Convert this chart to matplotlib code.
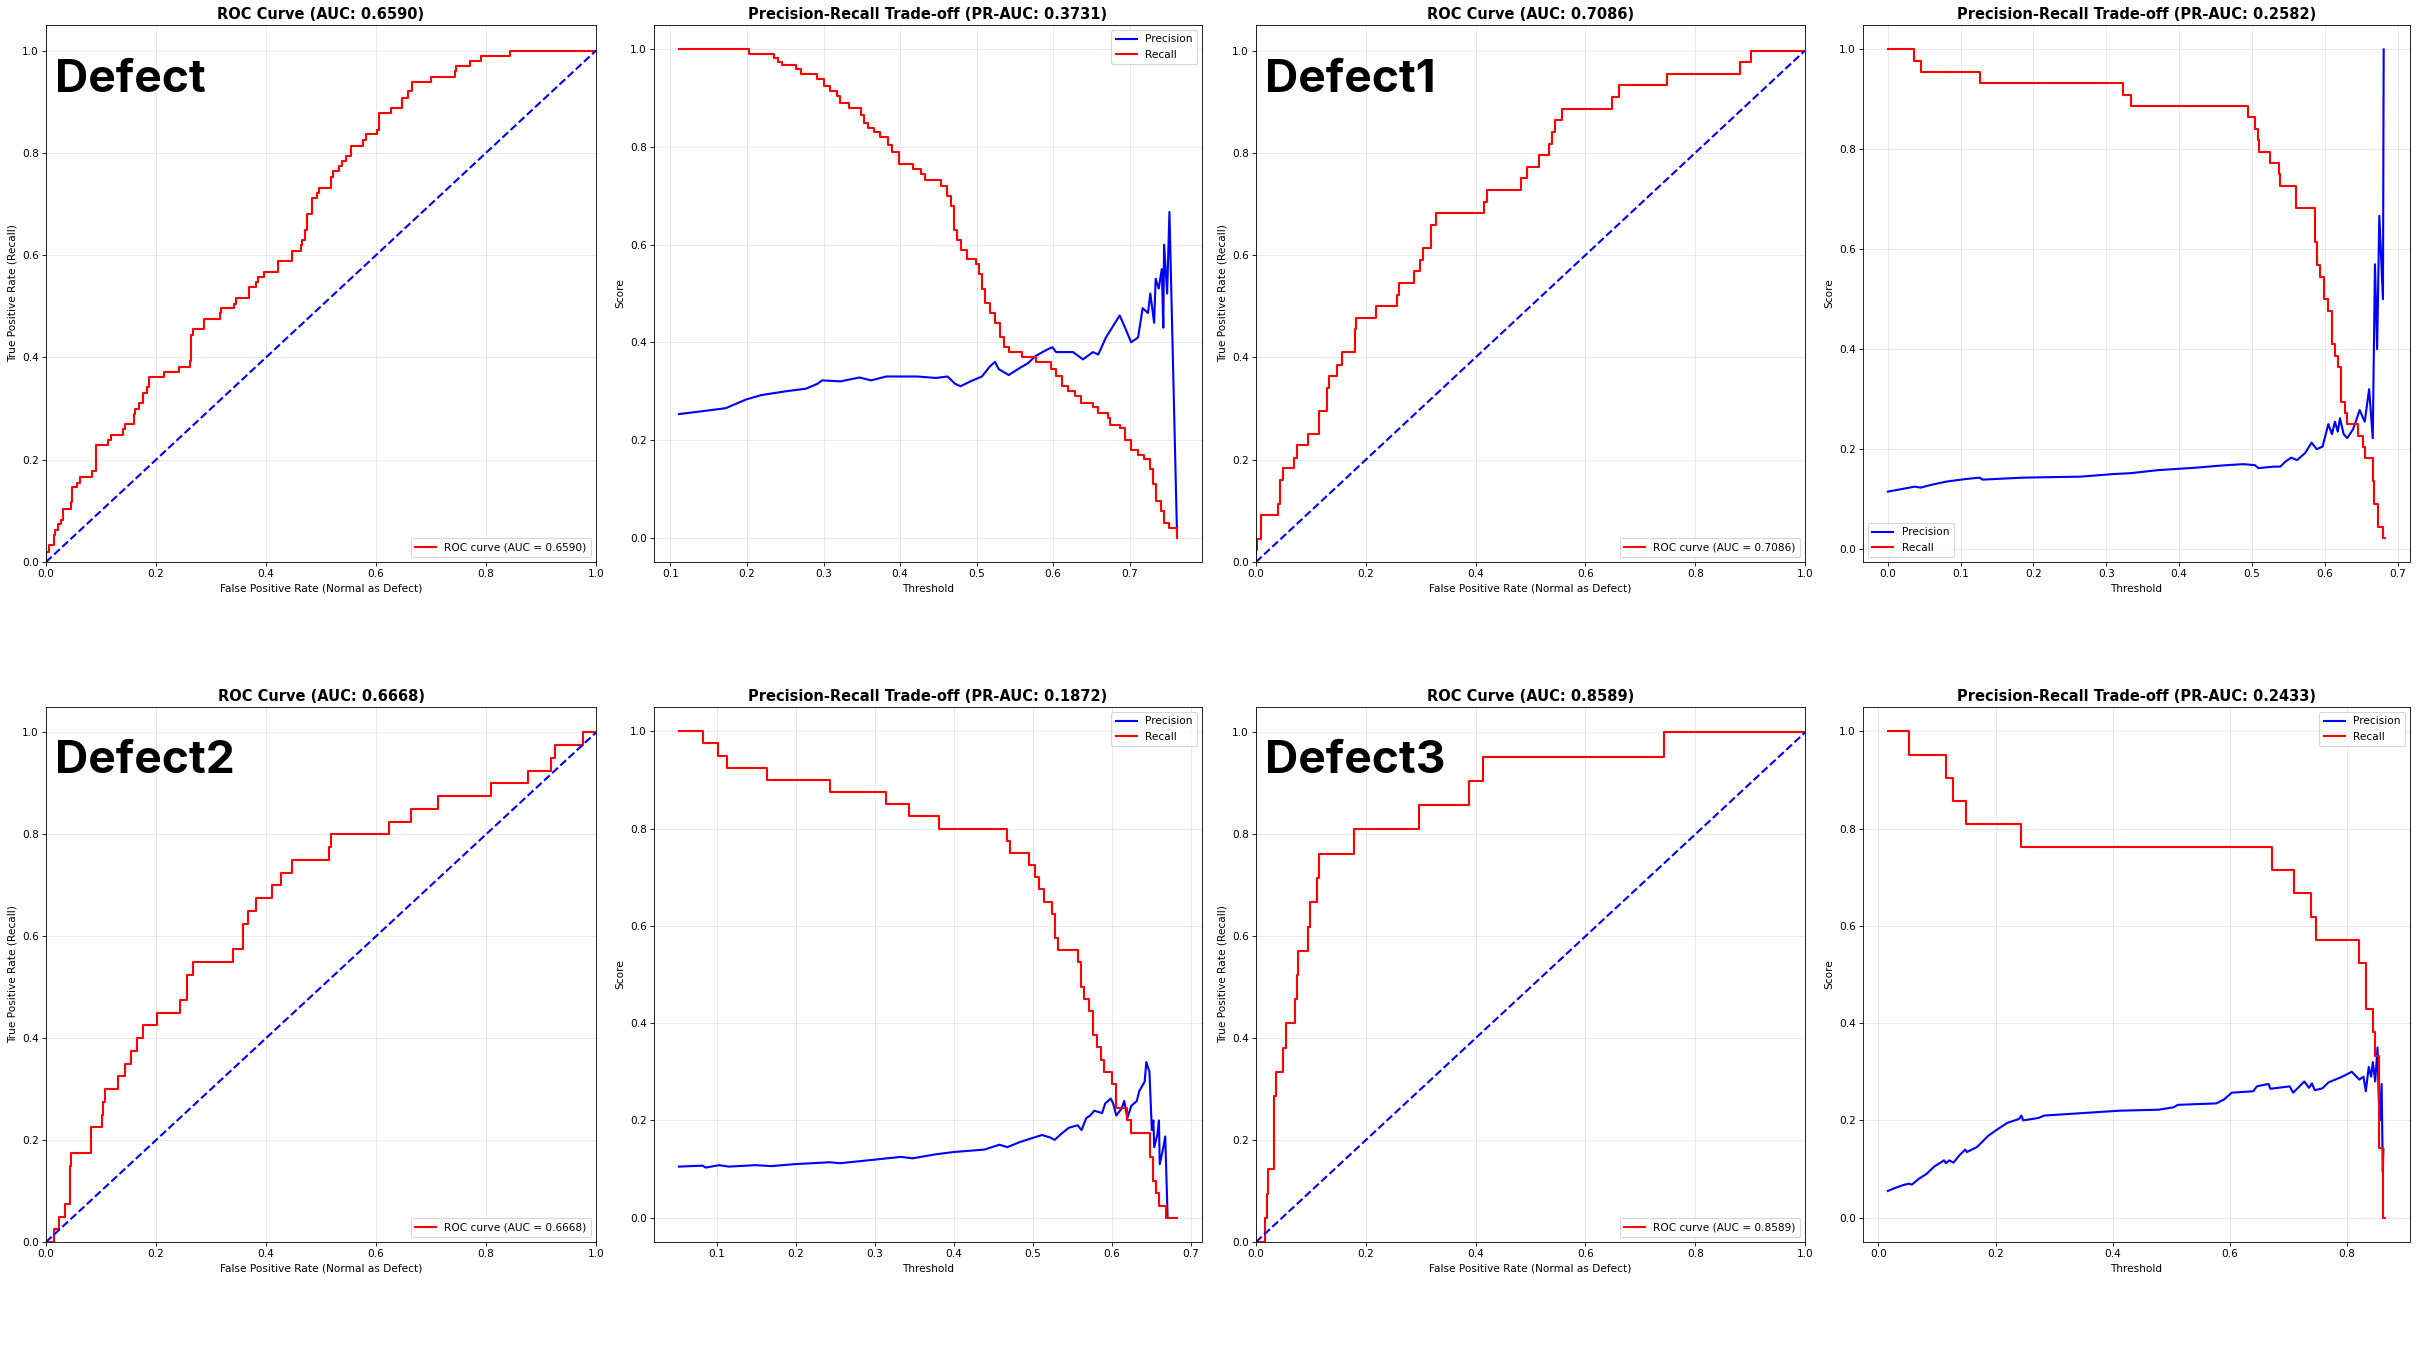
import matplotlib
matplotlib.use("Agg")
import matplotlib.pyplot as plt

# ---------------- data ----------------
defect_names = ["Defect", "Defect1", "Defect2", "Defect3"]
roc_auc = [0.6590, 0.7086, 0.6668, 0.8589]
pr_auc = [0.3731, 0.2582, 0.1872, 0.2433]

roc1_fpr = [0.0, 0.0, 0.005, 0.014, 0.017, 0.021, 0.028, 0.030, 0.046, 0.048, 0.057, 0.061, 0.083, 0.090,
            0.113, 0.118, 0.140, 0.143, 0.160, 0.162, 0.169, 0.177, 0.183, 0.188, 0.214, 0.241, 0.261, 0.264,
            0.268, 0.288, 0.316, 0.319, 0.341, 0.345, 0.369, 0.382, 0.385, 0.397, 0.421, 0.448, 0.464, 0.466,
            0.470, 0.474, 0.484, 0.493, 0.497, 0.519, 0.522, 0.533, 0.539, 0.546, 0.554, 0.577, 0.582, 0.601,
            0.606, 0.627, 0.647, 0.658, 0.665, 0.700, 0.743, 0.746, 0.770, 0.791, 0.843, 1.0]
roc1_tpr = [0.0, 0.020, 0.033, 0.053, 0.063, 0.074, 0.083, 0.104, 0.117, 0.146, 0.155, 0.166, 0.177, 0.228,
            0.239, 0.248, 0.260, 0.270, 0.290, 0.300, 0.310, 0.330, 0.342, 0.362, 0.372, 0.382, 0.393, 0.443,
            0.455, 0.476, 0.486, 0.496, 0.505, 0.517, 0.537, 0.548, 0.558, 0.567, 0.588, 0.608, 0.620, 0.629,
            0.650, 0.681, 0.712, 0.722, 0.732, 0.753, 0.764, 0.775, 0.785, 0.794, 0.814, 0.826, 0.836, 0.845,
            0.877, 0.888, 0.907, 0.920, 0.939, 0.948, 0.960, 0.970, 0.980, 0.990, 1.0, 1.0]

roc2_fpr = [0.0, 0.0, 0.002, 0.009, 0.040, 0.043, 0.049, 0.070, 0.075, 0.094, 0.114, 0.129, 0.133, 0.147,
            0.157, 0.180, 0.183, 0.218, 0.257, 0.260, 0.288, 0.299, 0.304, 0.318, 0.327, 0.415, 0.420, 0.483,
            0.494, 0.515, 0.534, 0.539, 0.544, 0.557, 0.649, 0.662, 0.749, 0.881, 0.902, 1.0]
roc2_tpr = [0.0, 0.023, 0.045, 0.092, 0.113, 0.160, 0.183, 0.203, 0.228, 0.250, 0.296, 0.341, 0.363, 0.386,
            0.410, 0.455, 0.477, 0.500, 0.522, 0.546, 0.569, 0.590, 0.614, 0.659, 0.682, 0.704, 0.727, 0.751,
            0.773, 0.796, 0.818, 0.841, 0.864, 0.886, 0.909, 0.932, 0.955, 0.977, 1.0, 1.0]

roc3_fpr = [0.0, 0.014, 0.023, 0.034, 0.043, 0.045, 0.081, 0.082, 0.101, 0.104, 0.108, 0.131, 0.143, 0.154,
            0.166, 0.177, 0.202, 0.244, 0.257, 0.267, 0.340, 0.358, 0.368, 0.382, 0.411, 0.428, 0.448, 0.515,
            0.519, 0.623, 0.663, 0.713, 0.809, 0.877, 0.919, 0.926, 0.976, 1.0]
roc3_tpr = [0.0, 0.025, 0.050, 0.075, 0.150, 0.175, 0.200, 0.225, 0.250, 0.275, 0.300, 0.325, 0.350, 0.375,
            0.400, 0.425, 0.450, 0.475, 0.525, 0.550, 0.575, 0.625, 0.650, 0.675, 0.700, 0.725, 0.750, 0.775,
            0.800, 0.825, 0.850, 0.875, 0.900, 0.925, 0.950, 0.975, 1.0, 1.0]

roc4_fpr = [0.0, 0.016, 0.020, 0.022, 0.033, 0.036, 0.049, 0.054, 0.071, 0.075, 0.077, 0.094, 0.098, 0.112,
            0.115, 0.179, 0.297, 0.388, 0.413, 0.743, 1.0]
roc4_tpr = [0.0, 0.048, 0.095, 0.143, 0.286, 0.333, 0.381, 0.429, 0.476, 0.524, 0.571, 0.619, 0.667, 0.714,
            0.762, 0.810, 0.857, 0.905, 0.952, 1.0, 1.0]

# PR panel 1 (Defect)
pr1_rec_thr = [0.111, 0.203, 0.235, 0.240, 0.246, 0.264, 0.270, 0.292, 0.300, 0.309, 0.317, 0.321, 0.333,
               0.349, 0.353, 0.358, 0.366, 0.374, 0.384, 0.389, 0.398, 0.417, 0.428, 0.433, 0.454, 0.461,
               0.467, 0.470, 0.474, 0.479, 0.488, 0.499, 0.503, 0.507, 0.511, 0.517, 0.524, 0.531, 0.536,
               0.543, 0.559, 0.577, 0.597, 0.604, 0.612, 0.619, 0.629, 0.637, 0.652, 0.659, 0.672, 0.674,
               0.687, 0.694, 0.702, 0.711, 0.719, 0.726, 0.730, 0.734, 0.741, 0.745, 0.751, 0.762]
pr1_recall = [1.0, 0.990, 0.982, 0.975, 0.968, 0.960, 0.950, 0.940, 0.925, 0.915, 0.905, 0.890, 0.880,
              0.865, 0.850, 0.840, 0.830, 0.820, 0.805, 0.790, 0.765, 0.755, 0.745, 0.733, 0.720, 0.700,
              0.680, 0.630, 0.610, 0.590, 0.570, 0.560, 0.540, 0.510, 0.480, 0.460, 0.440, 0.410, 0.390,
              0.380, 0.370, 0.360, 0.345, 0.330, 0.310, 0.300, 0.290, 0.275, 0.268, 0.255, 0.245, 0.230,
              0.225, 0.200, 0.180, 0.170, 0.160, 0.140, 0.110, 0.075, 0.055, 0.030, 0.020, 0.000]
pr1_prec_thr = [0.111, 0.147, 0.172, 0.199, 0.219, 0.252, 0.277, 0.292, 0.298, 0.322, 0.347, 0.362, 0.382,
                0.422, 0.447, 0.462, 0.472, 0.479, 0.492, 0.507, 0.517, 0.524, 0.529, 0.542, 0.557, 0.567,
                0.577, 0.592, 0.599, 0.604, 0.616, 0.626, 0.639, 0.652, 0.659, 0.669, 0.677, 0.687, 0.694,
                0.702, 0.711, 0.717, 0.724, 0.727, 0.732, 0.734, 0.738, 0.742, 0.744, 0.745, 0.749, 0.752,
                0.762]
pr1_precision = [0.253, 0.260, 0.265, 0.283, 0.292, 0.300, 0.305, 0.315, 0.322, 0.320, 0.328, 0.322, 0.330,
                 0.330, 0.327, 0.330, 0.315, 0.310, 0.320, 0.330, 0.350, 0.360, 0.345, 0.333, 0.348, 0.357,
                 0.372, 0.385, 0.390, 0.380, 0.380, 0.380, 0.365, 0.380, 0.375, 0.410, 0.430, 0.455, 0.430,
                 0.400, 0.410, 0.470, 0.460, 0.500, 0.440, 0.530, 0.510, 0.550, 0.430, 0.600, 0.500, 0.667,
                 0.0]

# PR panel 2 (Defect1)
pr2_rec_thr = [0.0, 0.036, 0.045, 0.126, 0.323, 0.334, 0.495, 0.504, 0.508, 0.510, 0.525, 0.537, 0.539,
               0.561, 0.586, 0.589, 0.594, 0.599, 0.605, 0.610, 0.614, 0.618, 0.623, 0.628, 0.631, 0.646,
               0.652, 0.656, 0.666, 0.668, 0.673, 0.680, 0.683]
pr2_recall = [1.0, 0.977, 0.955, 0.932, 0.909, 0.886, 0.864, 0.841, 0.818, 0.795, 0.773, 0.750, 0.727,
              0.682, 0.614, 0.568, 0.545, 0.500, 0.477, 0.410, 0.386, 0.364, 0.295, 0.273, 0.250, 0.227,
              0.205, 0.182, 0.136, 0.091, 0.045, 0.023, 0.023]
pr2_prec_thr = [0.0, 0.037, 0.045, 0.058, 0.080, 0.106, 0.126, 0.130, 0.186, 0.265, 0.308, 0.334, 0.371,
                0.424, 0.456, 0.488, 0.504, 0.509, 0.530, 0.539, 0.546, 0.554, 0.562, 0.573, 0.582, 0.589,
                0.597, 0.605, 0.610, 0.614, 0.618, 0.621, 0.626, 0.631, 0.639, 0.648, 0.655, 0.661, 0.666,
                0.669, 0.672, 0.675, 0.680, 0.681]
pr2_precision = [0.115, 0.125, 0.123, 0.128, 0.135, 0.140, 0.143, 0.139, 0.143, 0.145, 0.150, 0.152, 0.158,
                 0.163, 0.167, 0.170, 0.168, 0.162, 0.165, 0.165, 0.175, 0.183, 0.178, 0.192, 0.213, 0.200,
                 0.205, 0.250, 0.230, 0.255, 0.235, 0.262, 0.230, 0.222, 0.240, 0.278, 0.255, 0.320, 0.222,
                 0.570, 0.400, 0.667, 0.500, 1.0]

# PR panel 3 (Defect2)
pr3_rec_thr = [0.052, 0.083, 0.102, 0.113, 0.163, 0.243, 0.314, 0.343, 0.382, 0.468, 0.471, 0.496, 0.503,
               0.508, 0.515, 0.524, 0.528, 0.532, 0.558, 0.561, 0.565, 0.572, 0.577, 0.582, 0.586, 0.590,
               0.601, 0.606, 0.620, 0.624, 0.649, 0.652, 0.656, 0.660, 0.669, 0.683]
pr3_recall = [1.0, 0.975, 0.950, 0.925, 0.900, 0.875, 0.850, 0.825, 0.800, 0.775, 0.750, 0.725, 0.700,
              0.675, 0.650, 0.625, 0.575, 0.550, 0.525, 0.475, 0.450, 0.425, 0.375, 0.350, 0.325, 0.300,
              0.275, 0.225, 0.200, 0.175, 0.125, 0.075, 0.050, 0.025, 0.000, 0.000]
pr3_prec_thr = [0.052, 0.082, 0.086, 0.103, 0.115, 0.149, 0.169, 0.198, 0.243, 0.256, 0.304, 0.333, 0.348,
                0.376, 0.400, 0.439, 0.458, 0.468, 0.483, 0.502, 0.512, 0.522, 0.528, 0.536, 0.546, 0.557,
                0.562, 0.568, 0.573, 0.578, 0.588, 0.592, 0.599, 0.602, 0.606, 0.613, 0.616, 0.620, 0.625,
                0.632, 0.635, 0.642, 0.644, 0.648, 0.651, 0.653, 0.654, 0.658, 0.660, 0.661, 0.665, 0.668,
                0.671]
pr3_precision = [0.105, 0.107, 0.103, 0.108, 0.105, 0.108, 0.106, 0.110, 0.114, 0.112, 0.120, 0.125, 0.122,
                 0.130, 0.135, 0.140, 0.150, 0.145, 0.155, 0.165, 0.170, 0.165, 0.160, 0.172, 0.185, 0.190,
                 0.180, 0.205, 0.210, 0.220, 0.215, 0.235, 0.245, 0.235, 0.210, 0.225, 0.240, 0.205, 0.230,
                 0.240, 0.260, 0.280, 0.320, 0.300, 0.180, 0.200, 0.145, 0.170, 0.200, 0.110, 0.140, 0.167,
                 0.0]

# PR panel 4 (Defect3)
pr4_rec_thr = [0.016, 0.052, 0.115, 0.127, 0.150, 0.244, 0.671, 0.709, 0.739, 0.747, 0.821, 0.832, 0.844,
               0.848, 0.854, 0.862, 0.865]
pr4_recall = [1.0, 0.952, 0.905, 0.857, 0.810, 0.762, 0.714, 0.667, 0.619, 0.571, 0.524, 0.429, 0.381,
              0.333, 0.143, 0.000, 0.000]
pr4_prec_thr = [0.016, 0.026, 0.042, 0.052, 0.057, 0.069, 0.082, 0.095, 0.112, 0.115, 0.121, 0.128, 0.138,
                0.148, 0.151, 0.168, 0.187, 0.201, 0.220, 0.240, 0.244, 0.247, 0.273, 0.283, 0.412, 0.478,
                0.504, 0.511, 0.577, 0.590, 0.603, 0.640, 0.646, 0.666, 0.669, 0.702, 0.708, 0.727, 0.735,
                0.740, 0.745, 0.758, 0.768, 0.792, 0.808, 0.821, 0.828, 0.832, 0.837, 0.841, 0.844, 0.848,
                0.852, 0.854, 0.856, 0.859, 0.861, 0.862]
pr4_precision = [0.055, 0.060, 0.067, 0.070, 0.068, 0.080, 0.090, 0.105, 0.118, 0.112, 0.118, 0.113, 0.128,
                 0.140, 0.135, 0.145, 0.168, 0.180, 0.195, 0.203, 0.210, 0.200, 0.205, 0.210, 0.220, 0.222,
                 0.227, 0.232, 0.235, 0.243, 0.257, 0.260, 0.270, 0.275, 0.265, 0.270, 0.257, 0.280, 0.267,
                 0.276, 0.262, 0.266, 0.278, 0.290, 0.300, 0.284, 0.290, 0.260, 0.310, 0.290, 0.320, 0.280,
                 0.350, 0.250, 0.200, 0.275, 0.095, 0.140]

roc_fprs = [roc1_fpr, roc2_fpr, roc3_fpr, roc4_fpr]
roc_tprs = [roc1_tpr, roc2_tpr, roc3_tpr, roc4_tpr]
pr_rec_thrs = [pr1_rec_thr, pr2_rec_thr, pr3_rec_thr, pr4_rec_thr]
pr_recalls = [pr1_recall, pr2_recall, pr3_recall, pr4_recall]
pr_prec_thrs = [pr1_prec_thr, pr2_prec_thr, pr3_prec_thr, pr4_prec_thr]
pr_precisions = [pr1_precision, pr2_precision, pr3_precision, pr4_precision]
pr_legend_locs = ["upper right", "lower left", "upper right", "upper right"]

# ---------------- layout ----------------
W, H = 2419, 1361
DPI = 75.6
fig = plt.figure(figsize=(W / DPI, H / DPI), dpi=DPI)

col_left_px = [46, 654, 1256, 1863]
col_right_px = [596, 1202, 1805, 2410]
row_top_px = [25, 707]
row_bot_px = [562, 1242]


def make_ax(r, c):
    l = col_left_px[c] / W
    w = (col_right_px[c] - col_left_px[c]) / W
    b = (H - row_bot_px[r]) / H
    h = (row_bot_px[r] - row_top_px[r]) / H
    return fig.add_axes([l, b, w, h])


for i in range(4):
    r = i // 2
    c_roc = (i % 2) * 2
    c_pr = c_roc + 1

    # ROC
    ax = make_ax(r, c_roc)
    ax.plot(roc_fprs[i], roc_tprs[i], color="red", lw=2, drawstyle="steps-post",
            label=f"ROC curve (AUC = {roc_auc[i]:.4f})")
    ax.plot([0, 1], [0, 1], color="blue", lw=2, linestyle="--")
    ax.set_xlim(0.0, 1.0)
    ax.set_ylim(0.0, 1.05)
    ax.set_xlabel("False Positive Rate (Normal as Defect)")
    ax.set_ylabel("True Positive Rate (Recall)")
    ax.set_title(f"ROC Curve (AUC: {roc_auc[i]:.4f})", fontsize=14, fontweight="bold")
    ax.legend(loc="lower right")
    ax.grid(True, alpha=0.3)
    ax.text(0.016, 0.876, defect_names[i], transform=ax.transAxes, fontsize=44,
            fontweight="bold", family=["Inter", "Liberation Sans"], ha="left", va="baseline")

    # PR trade-off
    ax2 = make_ax(r, c_pr)
    ax2.plot(pr_prec_thrs[i], pr_precisions[i], color="blue", lw=2, label="Precision")
    ax2.plot(pr_rec_thrs[i], pr_recalls[i], color="red", lw=2, drawstyle="steps-post", label="Recall")
    ax2.set_xlabel("Threshold")
    ax2.set_ylabel("Score")
    ax2.set_title(f"Precision-Recall Trade-off (PR-AUC: {pr_auc[i]:.4f})", fontsize=14, fontweight="bold")
    ax2.legend(loc=pr_legend_locs[i])
    ax2.grid(True, alpha=0.3)

fig.savefig("out.png", dpi=DPI)
